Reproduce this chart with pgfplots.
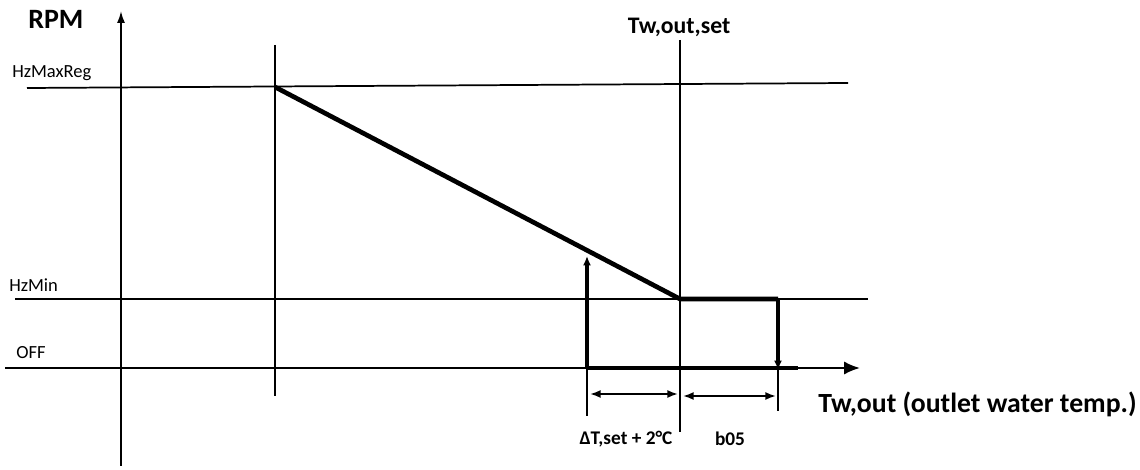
\documentclass[border=0pt]{standalone}
\usepackage{fontspec}
\setmainfont{Carlito}
\usepackage{pgfplots}
\pgfplotsset{compat=1.18}
\usetikzlibrary{arrows.meta}
\begin{document}
\begin{tikzpicture}
\begin{axis}[scale only axis, width=855pt, height=352.5pt,
  xmin=0, xmax=1140, ymin=0, ymax=470, y dir=reverse,
  axis lines=none, clip=false]
% thin reference lines
\addplot[black, line width=1.3pt] coordinates {(27,88) (848,83)};       % HzMaxReg
\addplot[black, line width=1.3pt] coordinates {(15,299) (868,299)};     % HzMin
\addplot[black, line width=1.7pt, -{Latex[length=12pt,width=10pt]}] coordinates {(5,368) (860,368)}; % OFF / x axis
\addplot[black, line width=1.3pt, -{Latex[length=9pt,width=6pt]}] coordinates {(121,466) (121,11)}; % y axis
\addplot[black, line width=1.3pt] coordinates {(275,45) (275,396)};
\addplot[black, line width=1.3pt] coordinates {(680,40) (680,432)};
\addplot[black, line width=1.3pt] coordinates {(587,368) (587,416)};
\addplot[black, line width=1.3pt] coordinates {(778,368) (778,411)};
% thick characteristic
\addplot[black, line width=3.5pt] coordinates {(275,87) (680,299) (778,299)};
\addplot[black, line width=3.5pt] coordinates {(587,368) (798,368)};
\addplot[black, line width=3.5pt, -{Latex[length=7pt,width=6pt]}] coordinates {(587,368) (587,256)};
\addplot[black, line width=3.5pt, -{Latex[length=7pt,width=6pt]}] coordinates {(778,299) (778,370)};
% dimension arrows
\addplot[black, line width=1.3pt, {Latex[length=8pt,width=6pt]}-{Latex[length=8pt,width=6pt]}] coordinates {(590,394) (678,394)};
\addplot[black, line width=1.3pt, {Latex[length=8pt,width=6pt]}-{Latex[length=8pt,width=6pt]}] coordinates {(683,396) (776,396)};
% labels
\node[anchor=west, font=\bfseries\fontsize{21}{23}\selectfont, inner sep=0pt] at (axis cs:28,19) {RPM};
\node[font=\bfseries\fontsize{17.8}{19}\selectfont, inner sep=0pt] at (axis cs:679,27) {Tw,out,set};
\node[anchor=west, font=\fontsize{13.9}{15}\selectfont, inner sep=0pt] at (axis cs:12,73) {HzMaxReg};
\node[anchor=west, font=\fontsize{13.9}{15}\selectfont, inner sep=0pt] at (axis cs:9,285) {HzMin};
\node[anchor=west, font=\fontsize{13.9}{15}\selectfont, inner sep=0pt] at (axis cs:16,353) {OFF};
\node[anchor=west, font=\bfseries\fontsize{20.8}{22}\selectfont, inner sep=0pt] at (axis cs:818,404) {Tw,out (outlet water temp.)};
\node[font=\bfseries\fontsize{14.5}{16}\selectfont, inner sep=0pt] at (axis cs:626,439) {ΔT,set + 2°C};
\node[font=\bfseries\fontsize{14.5}{16}\selectfont, inner sep=0pt] at (axis cs:730,439) {b05};
\end{axis}
\pgfresetboundingbox
\path (0,0) rectangle (855pt,352.5pt);
\end{tikzpicture}
\end{document}
